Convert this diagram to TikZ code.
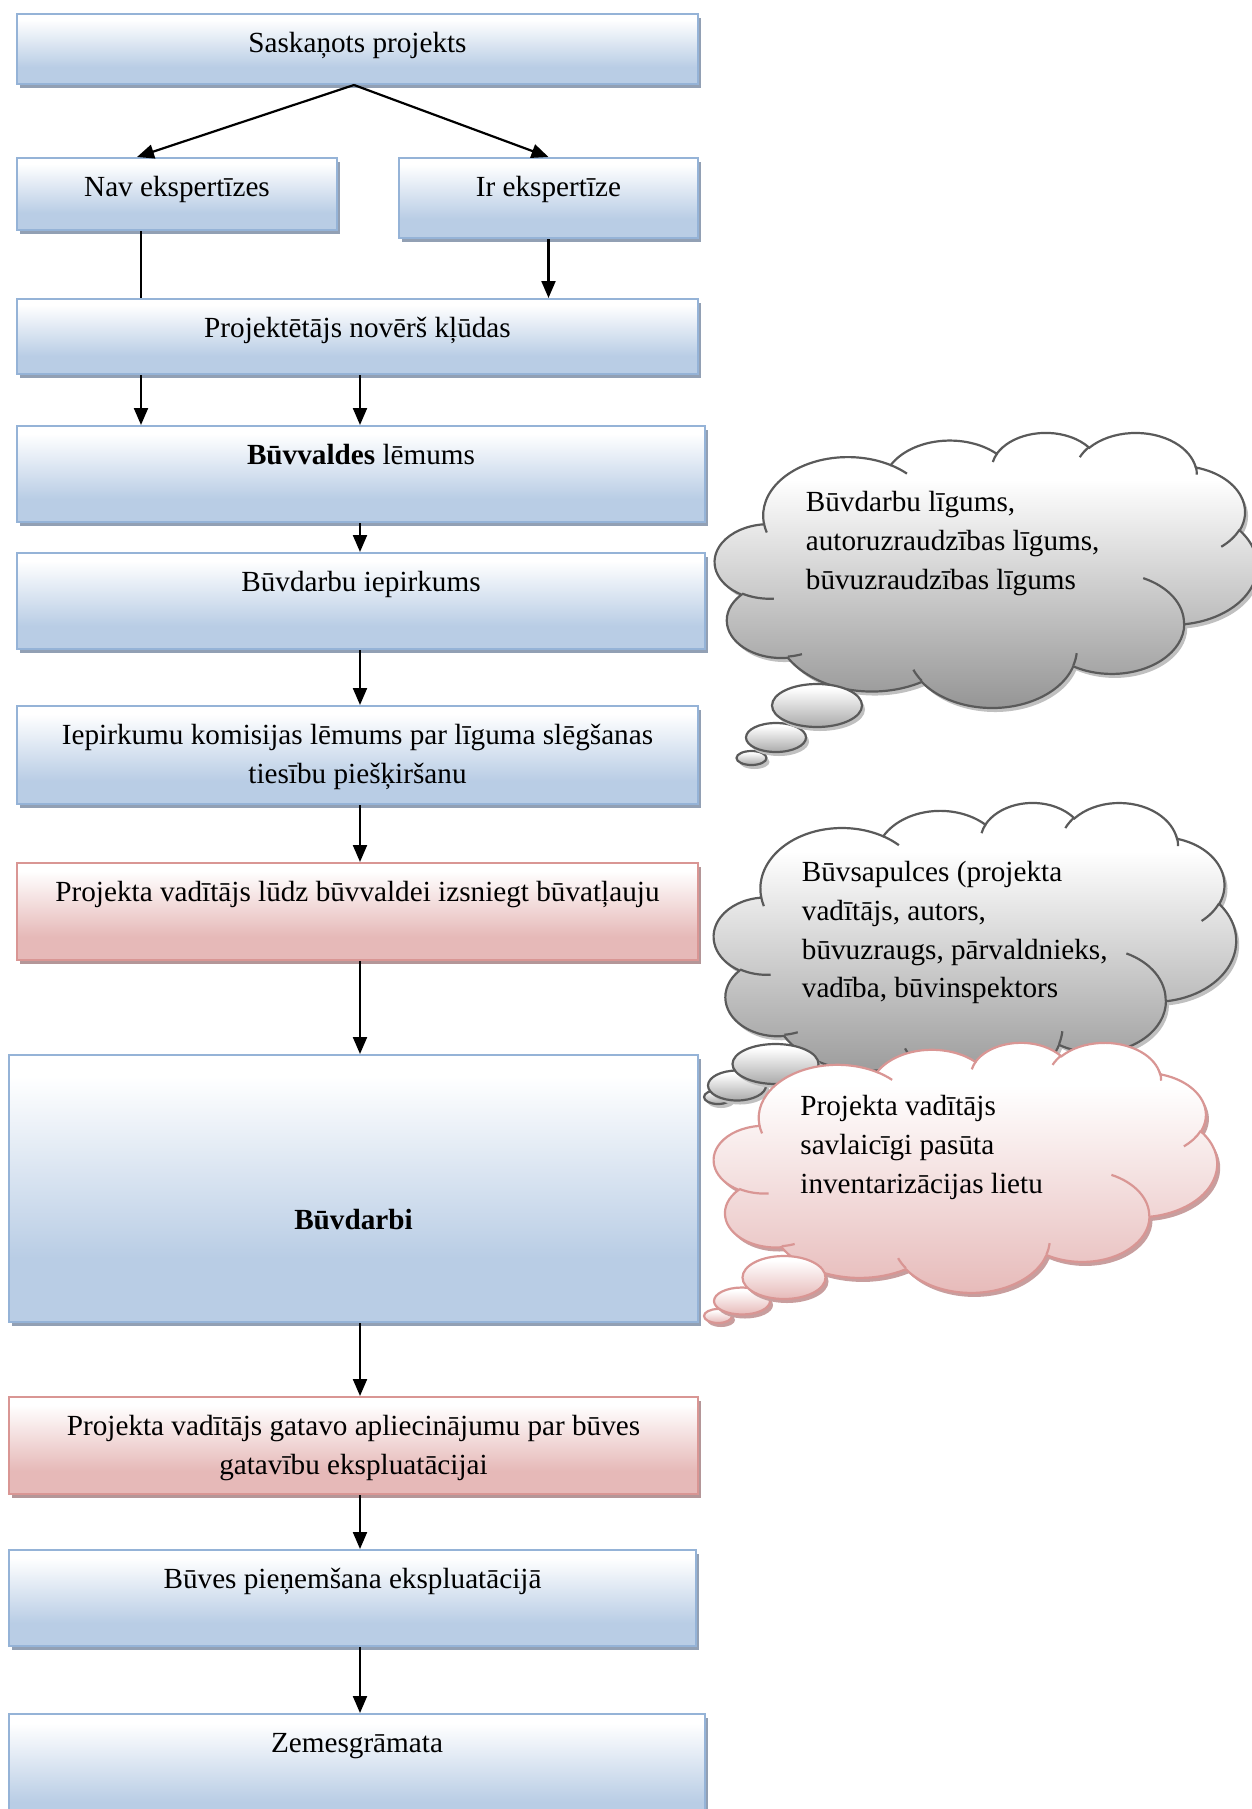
\documentclass[tikz,border=0pt]{standalone}
\usepackage{fontspec}
\setmainfont{Liberation Serif}
\usetikzlibrary{arrows.meta,shadows,calc}

% colours
\definecolor{bline}{RGB}{149,179,215}
\definecolor{bbot}{RGB}{185,205,229}
\definecolor{bshadow}{RGB}{146,160,180}
\definecolor{pline}{RGB}{217,150,148}
\definecolor{pbot}{RGB}{230,185,184}
\definecolor{pshadow}{RGB}{180,150,152}
\definecolor{gline}{RGB}{90,90,90}
\definecolor{gbot}{RGB}{146,146,146}
\definecolor{gpuff}{RGB}{170,170,170}
\definecolor{gshadow}{RGB}{192,192,192}
\definecolor{pcshadow}{RGB}{200,158,158}

% fills: vertical gradients, white at the top
\pgfdeclareverticalshading{boxblue}{100bp}{color(0bp)=(bbot); color(37bp)=(bbot); color(71bp)=(white); color(100bp)=(white)}
\pgfdeclareverticalshading{boxpink}{100bp}{color(0bp)=(pbot); color(37bp)=(pbot); color(71bp)=(white); color(100bp)=(white)}
\pgfdeclareverticalshading{cloudgray}{100bp}{color(0bp)=(gbot); color(25bp)=(gbot); color(66bp)=(white); color(100bp)=(white)}
\pgfdeclareverticalshading{cloudpink}{100bp}{color(0bp)=(pbot); color(25bp)=(pbot); color(66bp)=(white); color(100bp)=(white)}
\pgfdeclareverticalshading{puffgray}{100bp}{color(0bp)=(gpuff); color(25bp)=(gpuff); color(70bp)=(white); color(100bp)=(white)}
\pgfdeclareverticalshading{puffpink}{100bp}{color(0bp)=(pbot); color(25bp)=(pbot); color(70bp)=(white); color(100bp)=(white)}

% cloud outline built from elliptic arcs in a 43.2 x 43.2 frame (y pointing down);
% each arc: radii, start direction and sweep (degrees)
\newcommand\cldOuter{(3.9,14.37)}
\newcommand\cldInner{}
\newcommand\cldArc[5]{%
  \pgfmathsetmacro\cldTa{atan2((#2)*sin(#4),(#3)*cos(#4))}%
  \pgfmathsetmacro\cldTb{atan2((#2)*sin(#4+#5),(#3)*cos(#4+#5))}%
  \pgfmathsetmacro\cldTb{\cldTb<\cldTa ? \cldTb+360 : \cldTb}%
  \xdef#1{#1 arc[start angle=\cldTa, end angle=\cldTb, x radius=#2, y radius=#3]}}
\newcommand\cldMove[3]{\xdef#1{#1 (#2,#3)}}

\cldArc\cldOuter{6.753}{9.19}{-190.4875}{123.7805}
\cldArc\cldOuter{5.333}{7.267}{-144.1024}{89.9452}
\cldArc\cldOuter{4.365}{5.945}{-145.8079}{99.7230}
\cldArc\cldOuter{4.857}{6.595}{-130.9861}{117.2417}
\cldArc\cldOuter{5.333}{7.273}{-78.7089}{109.0269}
\cldArc\cldOuter{6.775}{9.22}{-46.2673}{130.2690}
\cldArc\cldOuter{5.785}{7.867}{0.6250}{114.0333}
\cldArc\cldOuter{6.752}{9.215}{22.4516}{115.1726}
\cldArc\cldOuter{7.72}{10.543}{66.2426}{75.7110}
\cldArc\cldOuter{4.36}{5.918}{-274.9421}{146.7356}
\cldArc\cldOuter{4.345}{5.945}{-246.8285}{152.5189}

\cldMove\cldInner{4.693}{26.177}\cldArc\cldInner{4.345}{5.945}{86.742}{26.4295}
\cldMove\cldInner{6.928}{34.899}\cldArc\cldInner{4.36}{5.918}{73.6105}{11.4475}
\cldMove\cldInner{16.478}{39.09}\cldArc\cldInner{6.752}{9.215}{137.6242}{14.0811}
\cldMove\cldInner{28.827}{34.751}\cldArc\cldInner{6.752}{9.215}{6.4533}{15.9984}
\cldMove\cldInner{34.129}{22.954}\cldArc\cldInner{5.785}{7.867}{-70.2924}{70.9174}
\cldMove\cldInner{41.798}{15.354}\cldArc\cldInner{5.333}{7.273}{30.318}{27.7515}
\cldMove\cldInner{38.324}{5.426}\cldArc\cldInner{4.857}{6.595}{-13.7443}{14.8589}
\cldMove\cldInner{29.078}{3.952}\cldArc\cldInner{4.857}{6.595}{-149.1815}{18.1954}
\cldMove\cldInner{22.141}{4.72}\cldArc\cldInner{4.365}{5.945}{-163.4943}{17.6864}
\cldMove\cldInner{14.0}{5.192}\cldArc\cldInner{6.753}{9.19}{-66.707}{12.3194}
\cldMove\cldInner{4.127}{15.789}\cldArc\cldInner{6.753}{9.19}{157.6544}{11.8582}

% cloud: left, top, width, height, shading, line colour, shadow colour
\newcommand\thoughtcloud[7]{%
  \begin{scope}[shift={(#1+3,#2+4)},xscale=#3/43.2,yscale=#4/43.2]
    \fill[#7] \cldOuter -- cycle;
  \end{scope}
  \begin{scope}[shift={(#1,#2)},xscale=#3/43.2,yscale=#4/43.2]
    \path[shade,shading=#5,draw=#6,line width=1.1pt] \cldOuter -- cycle;
    \draw[#6,line width=1.1pt] \cldInner;
  \end{scope}}
% small bubble: centre x, centre y, radii, shading, line colour, shadow colour
\newcommand\thoughtpuff[7]{%
  \fill[#7] (#1+3,#2+4) ellipse [x radius=#3, y radius=#4];
  \path[shade,shading=#5,draw=#6,line width=1.1pt] (#1,#2) ellipse [x radius=#3, y radius=#4];}

% box text: width, height, first baseline below the top, lines
\newcommand\boxlines[4]{\parbox[c][#2][t]{#1}{\centering\rule{0pt}{#3}#4\par}}

\begin{document}
\begin{tikzpicture}[x=0.5pt,y=-0.5pt,
  flowbox/.style={rectangle,inner sep=0pt,line width=1pt,shade,
    font=\fontsize{14.6}{19.4}\selectfont},
  bluebox/.style={flowbox,draw=bline,shading=boxblue,
    drop shadow={shadow xshift=1.5pt,shadow yshift=-2pt,fill=bshadow,opacity=1}},
  pinkbox/.style={flowbox,draw=pline,shading=boxpink,
    drop shadow={shadow xshift=1.5pt,shadow yshift=-2pt,fill=pshadow,opacity=1}},
  link/.style={line width=1.1pt},
  flowarrow/.style={link,-{Triangle[length=8.5pt,width=7pt]}},
  cloudtext/.style={inner sep=0pt,anchor=north west,align=left,
    font=\fontsize{14.6}{19.4}\selectfont}]
\useasboundingbox (0,0) rectangle (1252,1809);
\begin{scope}
\clip (0,0) rectangle (1252,1809);

% ---- flow boxes
\node[bluebox,minimum width=340.5pt,minimum height=35pt] (b1) at (357.5,49)
  {\boxlines{330pt}{35pt}{19.25pt}{Saskaņots projekts}};
\node[bluebox,minimum width=160pt,minimum height=36pt] (nav) at (177,194)
  {\boxlines{150pt}{36pt}{19.25pt}{Nav ekspertīzes}};
\node[bluebox,minimum width=149.5pt,minimum height=40pt] (ir) at (548.5,198)
  {\boxlines{140pt}{40pt}{19.25pt}{Ir ekspertīze}};
\node[bluebox,minimum width=340.5pt,minimum height=37.5pt] (b4) at (357.5,336.5)
  {\boxlines{330pt}{37.5pt}{19.25pt}{Projektētājs novērš kļūdas}};
\node[bluebox,minimum width=344pt,minimum height=48pt] (b5) at (361,474)
  {\boxlines{334pt}{48pt}{19.25pt}{\textbf{Būvvaldes} lēmums}};
\node[bluebox,minimum width=344pt,minimum height=48pt] (b6) at (361,601)
  {\boxlines{334pt}{48pt}{19.25pt}{Būvdarbu iepirkums}};
\node[bluebox,minimum width=340.5pt,minimum height=49pt] (b7) at (357.5,755)
  {\boxlines{336pt}{49pt}{19.25pt}{Iepirkumu komisijas lēmums par līguma slēgšanas\\tiesību piešķiršanu}};
\node[pinkbox,minimum width=340.5pt,minimum height=48.5pt] (b8) at (357.5,911.5)
  {\boxlines{336pt}{48.5pt}{19.25pt}{Projekta vadītājs lūdz būvvaldei izsniegt būvatļauju}};
\node[bluebox,minimum width=344.5pt,minimum height=133.5pt] (b9) at (353.5,1188.5)
  {\boxlines{334pt}{133.5pt}{87pt}{\textbf{Būvdarbi}}};
\node[pinkbox,minimum width=344.5pt,minimum height=48.5pt] (b10) at (353.5,1445.5)
  {\boxlines{336pt}{48.5pt}{19.25pt}{Projekta vadītājs gatavo apliecinājumu par būves\\gatavību ekspluatācijai}};
\node[bluebox,minimum width=343.5pt,minimum height=48pt] (b11) at (352.5,1598)
  {\boxlines{334pt}{48pt}{19.25pt}{Būves pieņemšana ekspluatācijā}};
\node[bluebox,minimum width=348pt,minimum height=58pt] (b12) at (357,1772)
  {\boxlines{338pt}{58pt}{19.25pt}{Zemesgrāmata}};

% ---- connectors
\coordinate (apex) at ($(b1.south)+(-3.5,0)$);
\coordinate (xleft) at (141,0);
\coordinate (xcol) at (360,0);
\draw[flowarrow] (apex) -- ($(nav.north west)+(121,0)$);
\draw[flowarrow] (apex) -- (ir.north);
\draw[link] (nav.south -| xleft) -- (b4.north -| xleft);
\draw[flowarrow] (ir.south) -- (ir.south |- b4.north);
\draw[flowarrow] (b4.south -| xleft) -- (b5.north -| xleft);
\draw[flowarrow] (b4.south -| xcol) -- (b5.north -| xcol);
\draw[flowarrow] (b5.south -| xcol) -- (b6.north -| xcol);
\draw[flowarrow] (b6.south -| xcol) -- (b7.north -| xcol);
\draw[flowarrow] (b7.south -| xcol) -- (b8.north -| xcol);
\draw[flowarrow] (b8.south -| xcol) -- (b9.north -| xcol);
\draw[flowarrow] (b9.south -| xcol) -- (b10.north -| xcol);
\draw[flowarrow] (b10.south -| xcol) -- (b11.north -| xcol);
\draw[flowarrow] (b11.south -| xcol) -- (b12.north -| xcol);

% ---- thought clouds
\thoughtcloud{715}{432}{542}{275}{cloudgray}{gline}{gshadow}
\thoughtpuff{751.5}{758}{15}{7}{puffgray}{gline}{gshadow}
\thoughtpuff{776}{737.5}{30}{14.5}{puffgray}{gline}{gshadow}
\thoughtpuff{817}{705.5}{45}{21.5}{puffgray}{gline}{gshadow}

\thoughtcloud{714}{802}{522}{285}{cloudgray}{gline}{gshadow}
\thoughtpuff{718}{1097}{14}{7}{puffgray}{gline}{gshadow}
\thoughtpuff{737}{1085.5}{29}{15}{puffgray}{gline}{gshadow}
\thoughtpuff{775.5}{1064}{43}{20}{puffgray}{gline}{gshadow}

\thoughtcloud{714}{1042}{503}{250}{cloudpink}{pline}{pcshadow}
\thoughtpuff{718}{1316}{14}{7}{puffpink}{pline}{pcshadow}
\thoughtpuff{742}{1301}{28}{13.5}{puffpink}{pline}{pcshadow}
\thoughtpuff{784}{1277.5}{41.5}{21.5}{puffpink}{pline}{pcshadow}

\node[cloudtext] (t1) at (805.5,472.5)
  {\rule{0pt}{19.25pt}Būvdarbu līgums,\\autoruzraudzības līgums,\\būvuzraudzības līgums};
\node[cloudtext] (t2) at (801.5,842.5)
  {\rule{0pt}{19.25pt}Būvsapulces (projekta\\vadītājs, autors,\\būvuzraugs, pārvaldnieks,\\vadība, būvinspektors};
\node[cloudtext] (t3) at (800,1076.5)
  {\rule{0pt}{19.25pt}Projekta vadītājs\\savlaicīgi pasūta\\inventarizācijas lietu};
\end{scope}
\end{tikzpicture}
\end{document}
